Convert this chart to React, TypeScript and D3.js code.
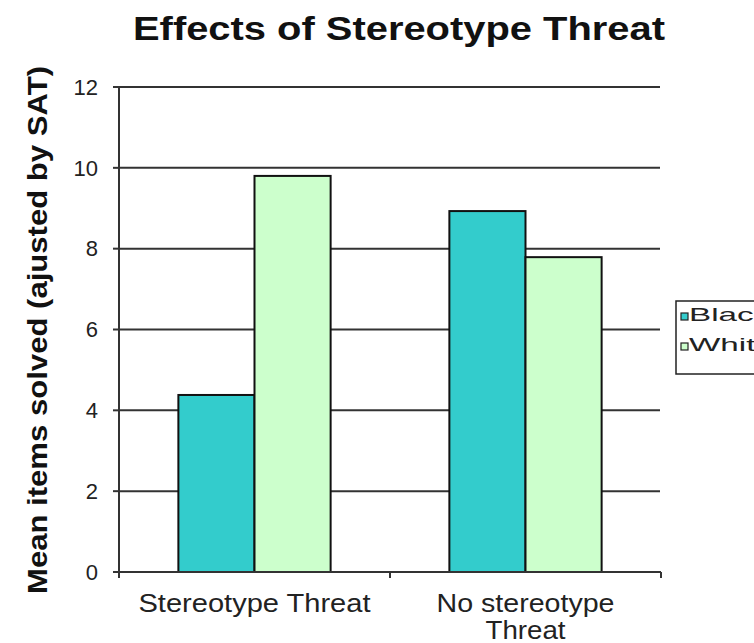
import React from "react";
import * as d3 from "d3";

const categories = ["Stereotype Threat", "No stereotype Threat"];
const categoryLines = [["Stereotype Threat"], ["No stereotype", "Threat"]];
const categoryLineWidths = [[232], [178, 80]];
const seriesNames = ["Black", "White"];
const blackValues = [4.38, 8.93];
const whiteValues = [9.8, 7.79];
const yTicks = [0, 2, 4, 6, 8, 10, 12];
const colors = ["#33CCCC", "#CCFFCC"];

export default function App() {
  const W = 754, H = 643;
  const left = 119, right = 661, top = 87, bottom = 572;
  const x = d3.scaleBand<string>().domain(categories).range([left, right]).padding(0);
  const inner = d3.scaleBand<string>().domain(seriesNames).range([0, x.bandwidth()]).paddingInner(0).paddingOuter(0.78);
  const y = d3.scaleLinear().domain([0, 12]).range([bottom, top]);
  const series = [blackValues, whiteValues];
  const font = "Arial, 'Liberation Sans', sans-serif";
  return (
    <svg width={W} height={H} style={{ position: "absolute", left: 0, top: 0, background: "#fff" }} fontFamily={font}>
      <text x={399} y={40} textAnchor="middle" fontSize={33} fontWeight="bold" fill="#111" textLength={532} lengthAdjust="spacingAndGlyphs">Effects of Stereotype Threat</text>
      {yTicks.map((t) => (
        <g key={t}>
          {t > 0 && <line x1={left} x2={right - 1} y1={y(t)} y2={y(t)} stroke="#333" strokeWidth={2} />}
          <line x1={left - 6} x2={left} y1={y(t)} y2={y(t)} stroke="#333" strokeWidth={2} />
          <text x={98} y={y(t)} dy="0.35em" textAnchor="end" fontSize={22} fill="#222">{t}</text>
        </g>
      ))}
      {categories.map((c, ci) => (
        <g key={c}>
          {seriesNames.map((s, si) => {
            const v = series[si][ci];
            return (
              <rect key={s} x={(x(c) as number) + (inner(s) as number)} y={y(v)} width={inner.bandwidth()} height={y(0) - y(v)}
                fill={colors[si]} stroke="#111" strokeWidth={2} />
            );
          })}
          {categoryLines[ci].map((ln, li) => (
            <text key={li} x={(x(c) as number) + x.bandwidth() / 2} y={612 + li * 27} textAnchor="middle" fontSize={25} fill="#222"
              textLength={categoryLineWidths[ci][li]} lengthAdjust="spacingAndGlyphs">{ln}</text>
          ))}
        </g>
      ))}
      <line x1={left} x2={left} y1={top} y2={bottom} stroke="#333" strokeWidth={2} />
      <line x1={left} x2={right} y1={bottom} y2={bottom} stroke="#333" strokeWidth={2} />
      {[left, left + x.bandwidth(), right].map((t, i) => (
        <line key={i} x1={t} x2={t} y1={bottom} y2={bottom + 6} stroke="#333" strokeWidth={2} />
      ))}
      <text transform={`translate(47,330) rotate(-90)`} textAnchor="middle" fontSize={27} fontWeight="bold" fill="#111"
        textLength={528} lengthAdjust="spacingAndGlyphs">Mean items solved (ajusted by SAT)</text>
      <rect x={676} y={301} width={100} height={73} fill="#fff" stroke="#222" strokeWidth={1.5} />
      {seriesNames.map((s, si) => (
        <g key={s}>
          <rect x={681} y={313 + si * 30} width={7} height={7} fill={colors[si]} stroke="#222" strokeWidth={1.2} />
          <text transform={`translate(689,${321 + si * 30}) scale(1.75,1)`} fontSize={19} fill="#222">{s}</text>
        </g>
      ))}
    </svg>
  );
}
